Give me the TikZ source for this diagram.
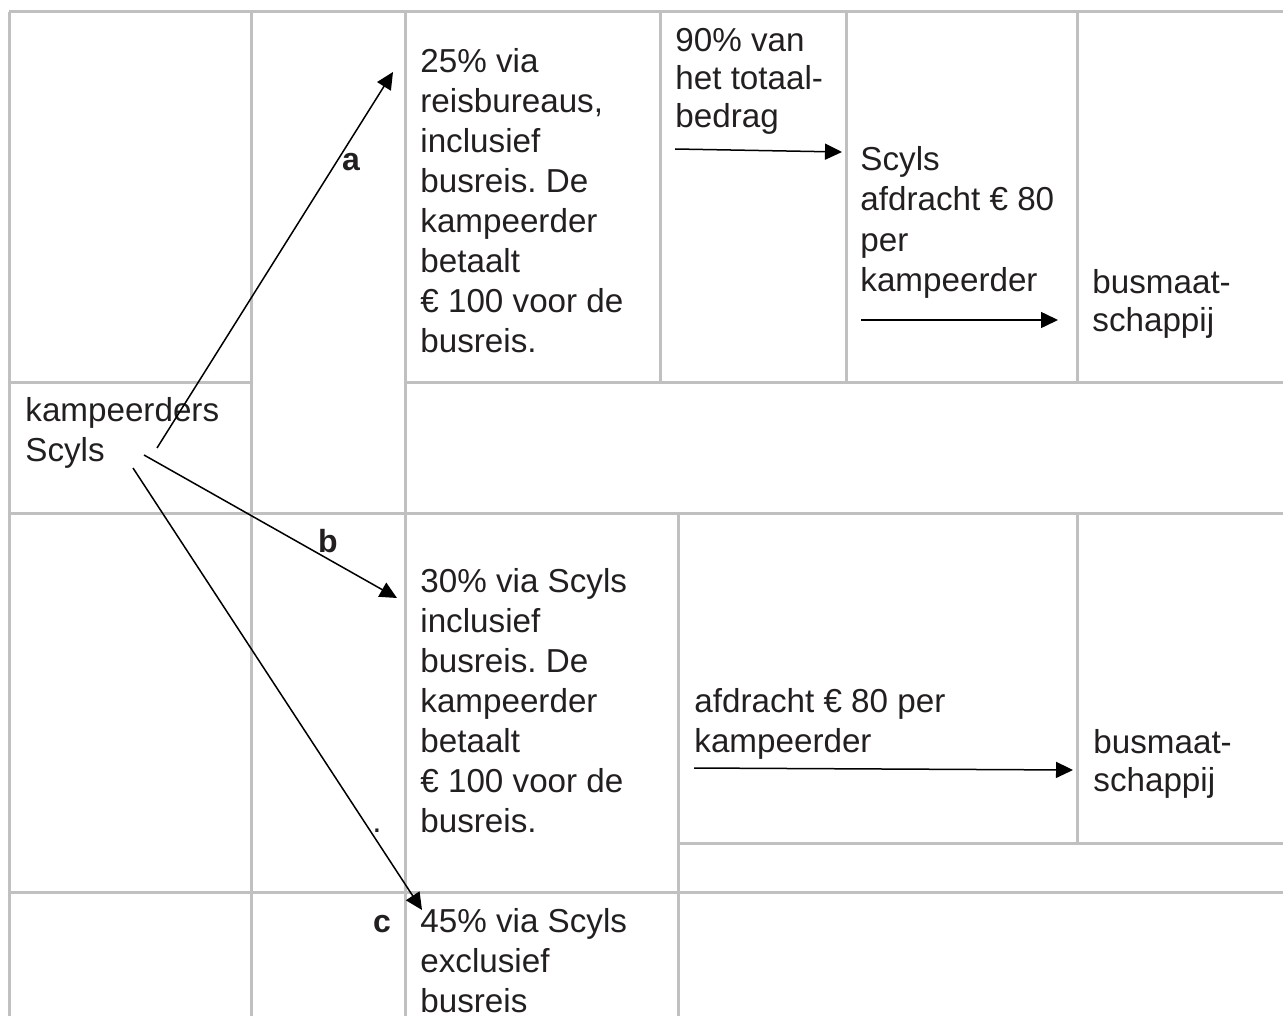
\documentclass[tikz,border=0pt]{standalone}
\usepackage{fontspec}
\setmainfont{Liberation Sans}
\usetikzlibrary{arrows.meta}
\definecolor{gridgray}{RGB}{192,192,192}
\definecolor{txtcol}{RGB}{35,31,32}
\frenchspacing
\begin{document}
\begin{tikzpicture}[x=0.5pt,y=-0.5pt,
  grid/.style={draw=gridgray, line width=1.5pt},
  txt/.style={anchor=base west, inner sep=0pt, align=left, text=txtcol,
    font=\fontsize{16.6}{20}\selectfont},
  tight/.style={font=\fontsize{16.6}{19}\selectfont},
  lbl/.style={anchor=base, inner sep=0pt, text=txtcol,
    font=\fontsize{16}{20}\selectfont\bfseries},
  flow/.style={draw=black, line width=0.75pt, -{Triangle[length=8.5pt,width=8pt]}}]
\useasboundingbox (0,0) rectangle (1283,1016);
% grid
\draw[grid] (9,12) -- (1283,12);
\draw[grid] (9,382) -- (251,382);
\draw[grid] (405,382) -- (1283,382);
\draw[grid] (9,513) -- (1283,513);
\draw[grid] (678,843) -- (1283,843);
\draw[grid] (9,892) -- (1283,892);
\draw[grid] (9,12) -- (9,1016);
\draw[grid] (251,12) -- (251,1016);
\draw[grid] (405,12) -- (405,1016);
\draw[grid] (660,12) -- (660,382);
\draw[grid] (846,12) -- (846,382);
\draw[grid] (1077,12) -- (1077,382);
\draw[grid] (1077,513) -- (1077,843);
\draw[grid] (678,513) -- (678,1016);
% texts (anchored at the baseline of the last line)
\node[txt] (t1) at (420,352) {25\% via\\reisbureaus,\\inclusief\\busreis. De\\kampeerder\\betaalt\\€ 100 voor de\\busreis.};
\node[txt,tight] (t2) at (675,128) {90\% van\\het totaal-\\bedrag};
\node[txt] (t3) at (860,291) {Scyls\\afdracht € 80\\per\\kampeerder};
\node[txt,tight] (t4) at (1092,331) {busmaat-\\schappij};
\node[txt] (t5) at (25,461) {kampeerders\\Scyls};
\node[txt] (t6) at (420,832) {30\% via Scyls\\inclusief\\busreis. De\\kampeerder\\betaalt\\€ 100 voor de\\busreis.};
\node[txt] (t7) at (694,752) {afdracht € 80 per\\kampeerder};
\node[txt,tight] (t8) at (1093,791) {busmaat-\\schappij};
\node[txt] (t9) at (420,1012) {45\% via Scyls\\exclusief\\busreis};
\node[lbl] (la) at (351,171) {a};
\node[lbl] (lb) at (328,552) {b};
\node[lbl] (lc) at (382,932) {c};
\node[lbl,font=\fontsize{16.6}{20}\selectfont] (dot) at (377,832) {.};
% arrow end points
\coordinate (aS) at (157,448);
\coordinate (aE) at (393,72);
\coordinate (bS) at (144,455);
\coordinate (bE) at (397,598);
\coordinate (cS) at (133,468);
\coordinate (cE) at (422,910);
\coordinate (dS) at (675,149);
\coordinate (dE) at (842,152);
\coordinate (eS) at (861,320);
\coordinate (eE) at (1058,320);
\coordinate (fS) at (694,768);
\coordinate (fE) at (1073,770);
\draw[flow] (aS) -- (aE);
\draw[flow] (bS) -- (bE);
\draw[flow] (cS) -- (cE);
\draw[flow] (dS) -- (dE);
\draw[flow] (eS) -- (eE);
\draw[flow] (fS) -- (fE);
\end{tikzpicture}
\end{document}
